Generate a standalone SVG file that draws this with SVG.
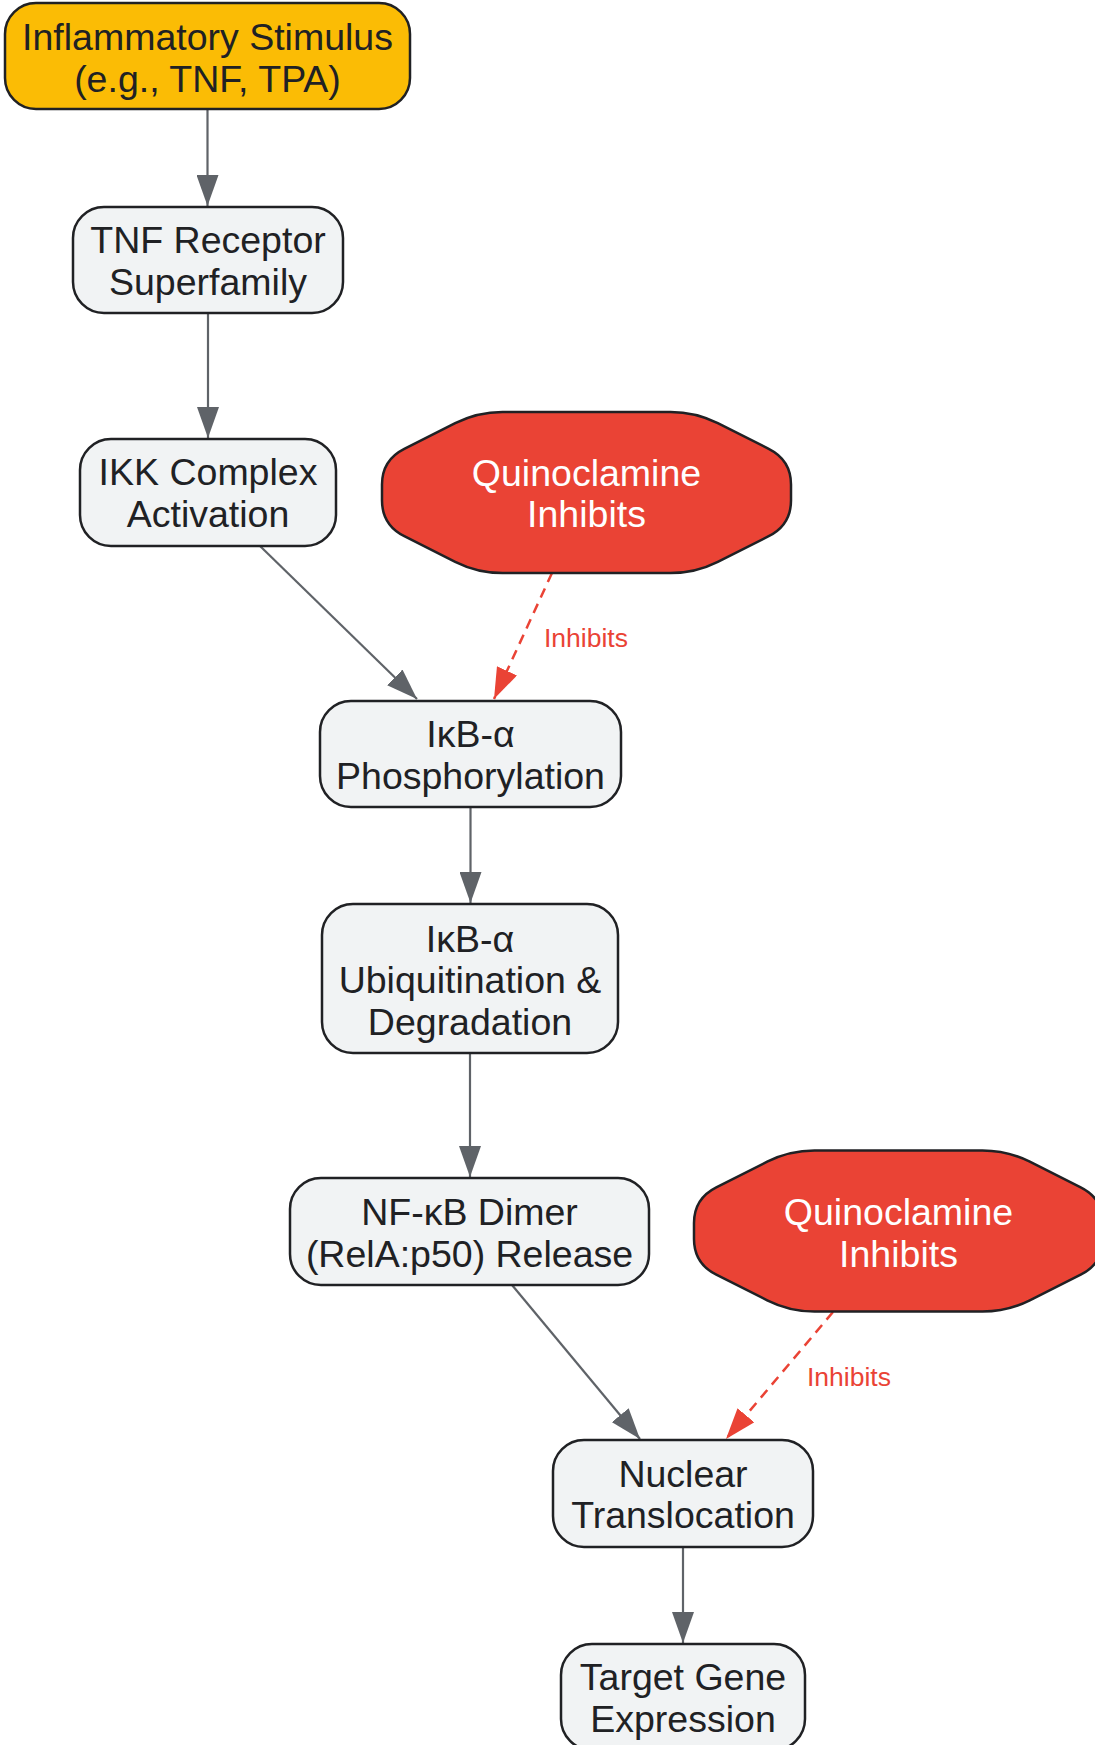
<svg xmlns="http://www.w3.org/2000/svg" xmlns:xlink="http://www.w3.org/1999/xlink" width="1095" height="1745" viewBox="0 0 1095 1745">
<style>
.box{fill:#F1F3F4;stroke:#202124;stroke-width:2.5}
.stim{fill:#FBBC05;stroke:#202124;stroke-width:2.5}
.inh{fill:#EA4335;stroke:#202124;stroke-width:2.5}
.t{font-family:"Liberation Sans",Arial,sans-serif;font-size:37.5px;fill:#202124;text-anchor:middle}
.tw{font-family:"Liberation Sans",Arial,sans-serif;font-size:37.5px;fill:#FFFFFF;text-anchor:middle}
.e{fill:none;stroke:#5F6368;stroke-width:2.2}
.ed{fill:none;stroke:#EA4335;stroke-width:2.5;stroke-dasharray:10,7}
.lbl{font-family:"Liberation Sans",Arial,sans-serif;font-size:26.5px;fill:#EA4335}
</style>
<defs>
<marker id="ag" viewBox="0 0 31 22" refX="31" refY="11" markerWidth="31" markerHeight="22" orient="auto" markerUnits="userSpaceOnUse"><path d="M0,0 L31,11 L0,22 z" fill="#5F6368"/></marker>
<marker id="ar" viewBox="0 0 31 22" refX="31" refY="11" markerWidth="31" markerHeight="22" orient="auto" markerUnits="userSpaceOnUse"><path d="M0,0 L31,11 L0,22 z" fill="#EA4335"/></marker>
<path id="oct" d="M -84,-80.5 L 84,-80.5 Q 109,-80.5 131.3,-69.3 L 182.2,-43.7 Q 204.5,-32.5 204.5,-8 L 204.5,8 Q 204.5,32.5 182.2,43.7 L 131.3,69.3 Q 109,80.5 84,80.5 L -84,80.5 Q -109,80.5 -131.3,69.3 L -182.2,43.7 Q -204.5,32.5 -204.5,8 L -204.5,-8 Q -204.5,-32.5 -182.2,-43.7 L -131.3,-69.3 Q -109,-80.5 -84,-80.5 Z"/>
</defs>
<rect width="1095" height="1745" fill="#FFFFFF"/>
<g id="edges">
<path class="e" d="M207.5,109 L207.5,206" marker-end="url(#ag)"/>
<path class="e" d="M208,314 L208,438" marker-end="url(#ag)"/>
<path class="e" d="M260,546 L417,699" marker-end="url(#ag)"/>
<path class="ed" d="M552,573 L494,699" marker-end="url(#ar)"/>
<text class="lbl" x="544" y="647">Inhibits</text>
<path class="e" d="M470.5,807 L470.5,903" marker-end="url(#ag)"/>
<path class="e" d="M470,1053 L470,1177" marker-end="url(#ag)"/>
<path class="e" d="M512,1285 L640,1439" marker-end="url(#ag)"/>
<path class="ed" d="M833,1312 L726,1439" marker-end="url(#ar)"/>
<text class="lbl" x="807" y="1386">Inhibits</text>
<path class="e" d="M683,1547 L683,1643" marker-end="url(#ag)"/>
</g>
<g id="stimulus">
<rect class="stim" x="5" y="3" width="405" height="106" rx="31" ry="31"/>
<text class="t" x="207.5" y="50">Inflammatory Stimulus</text>
<text class="t" x="207.5" y="92">(e.g., TNF, TPA)</text>
</g>
<g id="tnfr">
<rect class="box" x="73" y="207" width="270" height="106" rx="31" ry="31"/>
<text class="t" x="208" y="253">TNF Receptor</text>
<text class="t" x="208" y="295">Superfamily</text>
</g>
<g id="ikk">
<rect class="box" x="80" y="439" width="256" height="107" rx="31" ry="31"/>
<text class="t" x="208" y="485">IKK Complex</text>
<text class="t" x="208" y="527">Activation</text>
</g>
<g id="quino1">
<use href="#oct" xlink:href="#oct" class="inh" x="586.5" y="492.5"/>
<text class="tw" x="586.5" y="486">Quinoclamine</text>
<text class="tw" x="586.5" y="527">Inhibits</text>
</g>
<g id="ikba_phos">
<rect class="box" x="320" y="701" width="301" height="106" rx="31" ry="31"/>
<text class="t" x="470.5" y="747">IκB-α</text>
<text class="t" x="470.5" y="789">Phosphorylation</text>
</g>
<g id="ikba_deg">
<rect class="box" x="322" y="904" width="296" height="149" rx="31" ry="31"/>
<text class="t" x="470" y="952">IκB-α</text>
<text class="t" x="470" y="993">Ubiquitination &amp;</text>
<text class="t" x="470" y="1035">Degradation</text>
</g>
<g id="nfkb">
<rect class="box" x="290" y="1178" width="359" height="107" rx="31" ry="31"/>
<text class="t" x="469.5" y="1225">NF-κB Dimer</text>
<text class="t" x="469.5" y="1267">(RelA:p50) Release</text>
</g>
<g id="quino2">
<use href="#oct" xlink:href="#oct" class="inh" x="898.5" y="1231"/>
<text class="tw" x="898.5" y="1225">Quinoclamine</text>
<text class="tw" x="898.5" y="1267">Inhibits</text>
</g>
<g id="nuclear">
<rect class="box" x="553" y="1440" width="260" height="107" rx="31" ry="31"/>
<text class="t" x="683" y="1487">Nuclear</text>
<text class="t" x="683" y="1528">Translocation</text>
</g>
<g id="target">
<rect class="box" x="561" y="1644" width="244" height="106" rx="31" ry="31"/>
<text class="t" x="683" y="1690">Target Gene</text>
<text class="t" x="683" y="1732">Expression</text>
</g>
</svg>
